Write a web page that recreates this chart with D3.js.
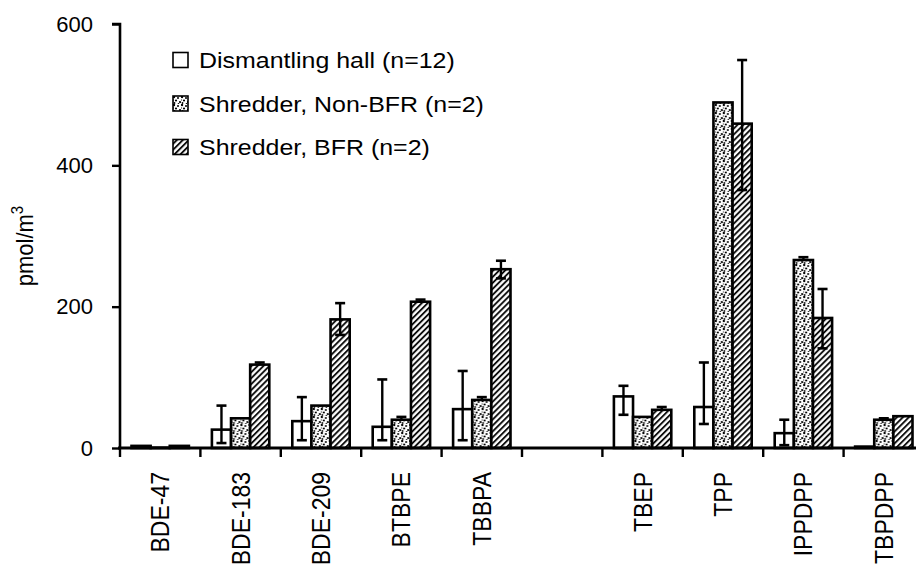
<!DOCTYPE html>
<html><head><meta charset="utf-8">
<script src="https://cdn.jsdelivr.net/npm/d3@7"></script>
<style>
body{margin:0;background:#fff;}
svg{display:block;font-family:"Liberation Sans",Arial,Helvetica,sans-serif;}
</style></head>
<body><svg id="c" width="916" height="571"></svg>
<script>
const categories = ["BDE-47","BDE-183","BDE-209","BTBPE","TBBPA","","TBEP","TPP","IPPDPP","TBPDPP"];
const seriesNames = ["Dismantling hall (n=12)","Shredder, Non-BFR (n=2)","Shredder, BFR (n=2)"];
const dismantling   = [3, 26, 38, 30, 55, null, 73, 58, 21, 2];
const dismantlingLo = [null, 7, 11, 11, 11, null, 47, 34, 4, null];
const dismantlingHi = [null, 60, 72, 97, 109, null, 88, 121, 40, null];
const nonBFR   = [0.5, 42, 60, 40, 68, null, 44, 489, 266, 40];
const nonBFRLo = [null, null, null, null, null, null, null, null, null, null];
const nonBFRHi = [null, null, null, 44, 72, null, null, null, 270, 42];
const BFR   = [3, 118, 182, 207, 253, null, 54, 459, 184, 45];
const BFRLo = [null, null, 160, null, 240, null, null, 365, 141, null];
const BFRHi = [null, 121, 205, 210, 265, null, 58, 549, 225, null];
const yTicks = [0, 200, 400, 600];

const values = [dismantling, nonBFR, BFR];
const los = [dismantlingLo, nonBFRLo, BFRLo];
const his = [dismantlingHi, nonBFRHi, BFRHi];
const fills = ["#fff", "url(#dots)", "url(#hatch)"];

const svg = d3.select("#c");
const defs = svg.append("defs");
// speckle pattern
const pd = defs.append("pattern").attr("id","dots").attr("patternUnits","userSpaceOnUse")
  .attr("width",8).attr("height",8);
pd.append("rect").attr("width",8).attr("height",8).attr("fill","#fff");
[[1,1,1.2],[5,2,1.0],[3,4.5,1.1],[7,6,1.1],[1.5,7,0.9],[5.5,7.8,0.8],[0,4,0.8]].forEach(d=>{
  pd.append("circle").attr("cx",d[0]).attr("cy",d[1]).attr("r",d[2]).attr("fill","#000");
});
// hatch pattern
const ph = defs.append("pattern").attr("id","hatch").attr("patternUnits","userSpaceOnUse")
  .attr("width",4.2).attr("height",10).attr("patternTransform","rotate(45)");
ph.append("rect").attr("width",4.2).attr("height",10).attr("fill","#fff");
ph.append("line").attr("x1",1).attr("x2",1).attr("y1",0).attr("y2",10)
  .attr("stroke","#000").attr("stroke-width",1.8);

const x = d3.scaleBand().domain(d3.range(categories.length)).range([120, 924]).padding(0);
const bw = x.bandwidth();
const xs = d3.scaleBand().domain([0,1,2]).range([11.5, bw - 11.5]).padding(0);
const y = d3.scaleLinear().domain([0, 600]).range([448, 24]);

// bars
categories.forEach((c, i) => {
  const g = svg.append("g").attr("transform", `translate(${x(i)},0)`);
  [0,1,2].forEach(s => {
    const v = values[s][i];
    if (v == null) return;
    g.append("rect").attr("x", xs(s)).attr("y", y(v))
      .attr("width", xs.bandwidth()).attr("height", y(0) - y(v))
      .attr("fill", fills[s]).attr("stroke", "#000").attr("stroke-width", 2.6);
  });
  [0,1,2].forEach(s => {
    const v = values[s][i];
    const hi = his[s][i], lo = los[s][i];
    if (v == null || hi == null) return;
    const cx = xs(s) + xs.bandwidth()/2;
    const l = lo == null ? v : lo;
    g.append("line").attr("x1",cx).attr("x2",cx).attr("y1",y(hi)).attr("y2",y(l))
      .attr("stroke","#000").attr("stroke-width",2.4);
    g.append("line").attr("x1",cx-5).attr("x2",cx+5).attr("y1",y(hi)).attr("y2",y(hi))
      .attr("stroke","#000").attr("stroke-width",2.6);
    if (lo != null) g.append("line").attr("x1",cx-5).attr("x2",cx+5).attr("y1",y(lo)).attr("y2",y(lo))
      .attr("stroke","#000").attr("stroke-width",2.6);
  });
});

// y axis
const ya = svg.append("g").attr("transform","translate(120,0)")
  .call(d3.axisLeft(y).tickValues(yTicks).tickSize(8).tickPadding(19).tickFormat(d3.format("d")));
ya.select(".domain").attr("stroke","#000").attr("stroke-width",2.6).attr("d", `M-8,${y(600)}H0V${y(0)}`);
ya.selectAll(".tick line").attr("stroke","#000").attr("stroke-width",2.4);
ya.selectAll(".tick text").attr("font-size",22).attr("fill","#000")
  .attr("font-family","'Liberation Sans',Arial,sans-serif");

// x axis
svg.append("line").attr("x1",118).attr("x2",924).attr("y1",y(0)).attr("y2",y(0))
  .attr("stroke","#000").attr("stroke-width",2.8);
categories.forEach((c,i) => {
  const xx = x(i);
  svg.append("line").attr("x1",xx).attr("x2",xx).attr("y1",y(0)).attr("y2",y(0)+9)
    .attr("stroke","#000").attr("stroke-width",2.4);
  if (c) svg.append("text").attr("transform",`translate(${xx + bw/2},472) scale(1.09,1) rotate(-90)`)
    .attr("text-anchor","end").attr("dy","0.36em").attr("font-size",23).attr("fill","#000").text(c);
});

// y label
svg.append("text").attr("transform","translate(33,246) scale(1.08,1) rotate(-90)").attr("text-anchor","middle")
  .attr("font-size",22).attr("fill","#000")
  .html('pmol/m<tspan dy="-9" font-size="15">3</tspan>');

// legend
const lg = svg.append("g").attr("transform","translate(173,0)");
seriesNames.forEach((n, s) => {
  const cy = 60 + s * 43.5;
  lg.append("rect").attr("x",0).attr("y",cy-7.5).attr("width",15).attr("height",15)
    .attr("fill",fills[s]).attr("stroke","#000").attr("stroke-width",1.6);
  lg.append("text").attr("transform",`translate(26,${cy}) scale(1.085,1)`).attr("dy","0.36em").attr("font-size",23)
    .attr("fill","#000").text(n);
});
</script></body></html>
